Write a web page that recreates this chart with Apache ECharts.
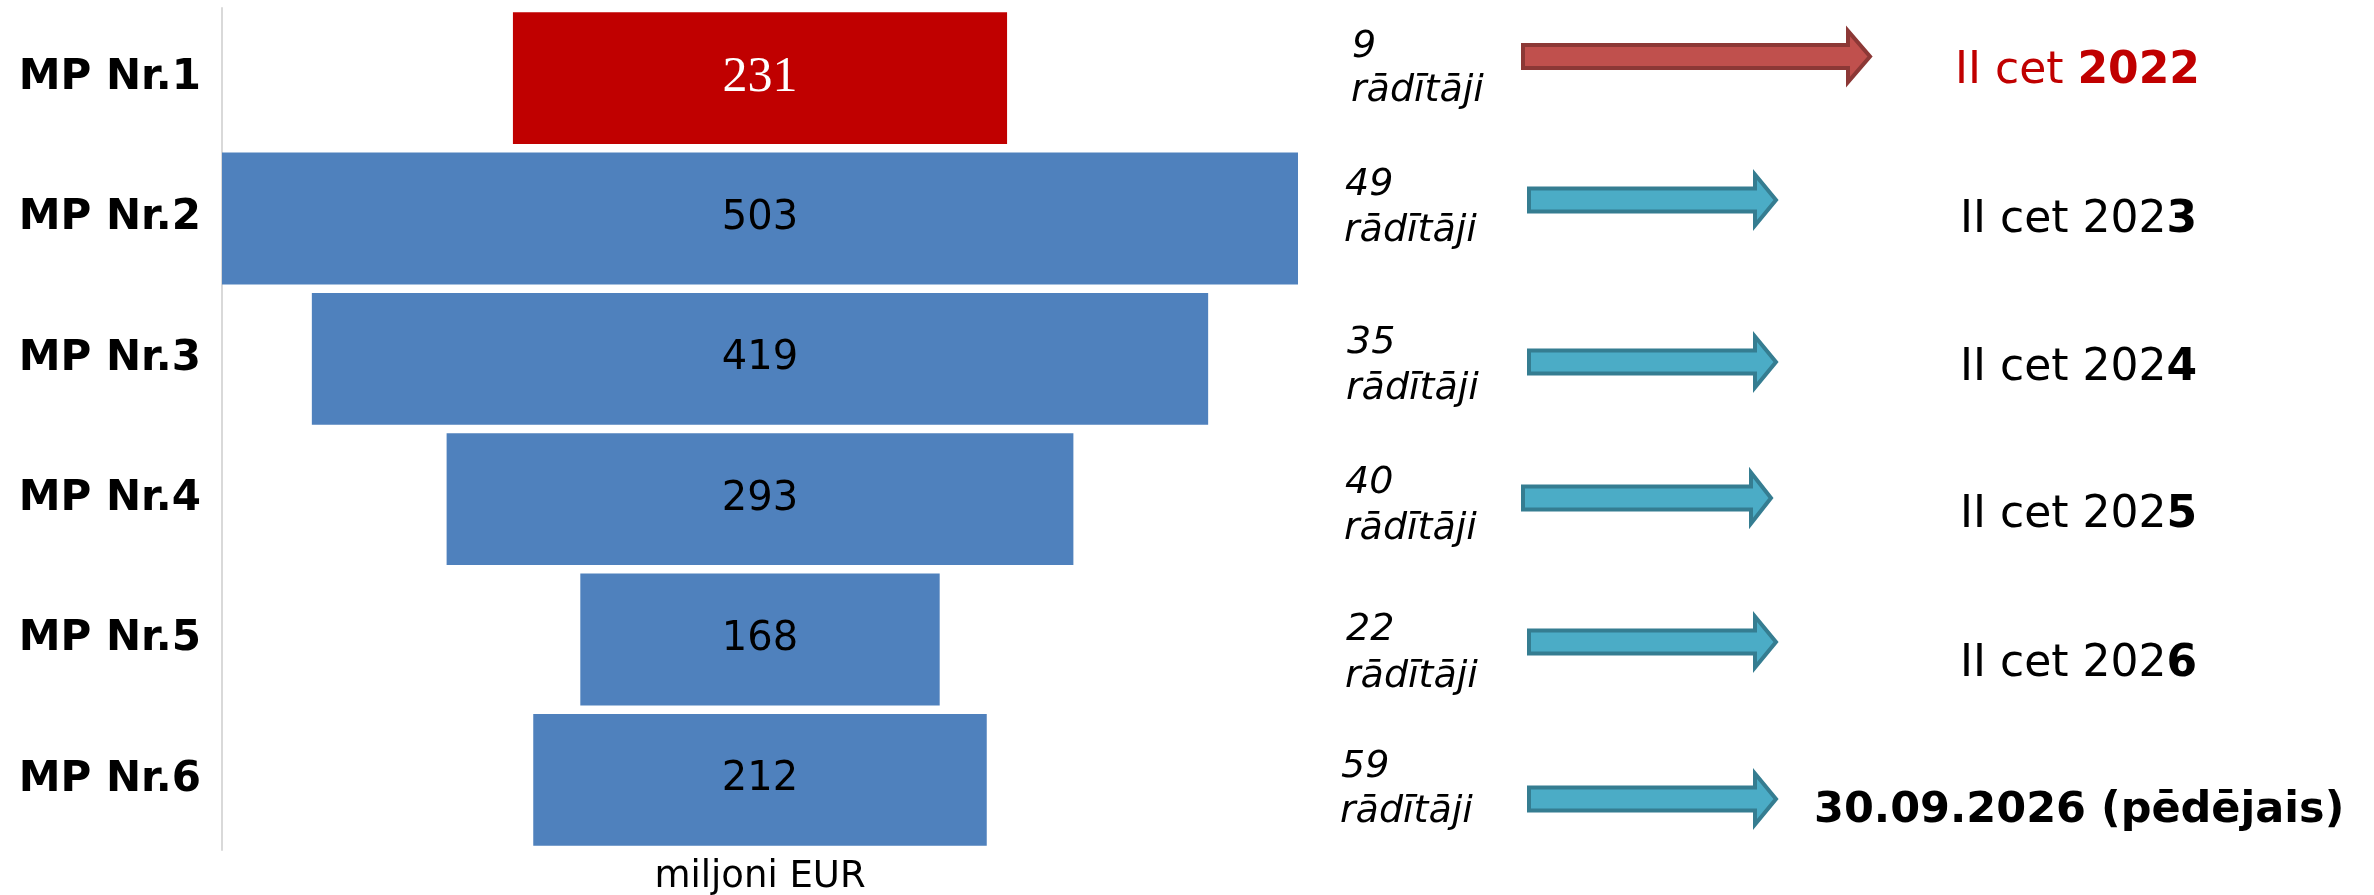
<!DOCTYPE html>
<html>
<head>
<meta charset="utf-8">
<script src="https://cdn.jsdelivr.net/npm/echarts@6/dist/echarts.min.js"></script>
<style>
  html, body { margin: 0; padding: 0; background: #ffffff; }
  #chart { width: 2374px; height: 895px; }
</style>
</head>
<body>
<div id="chart"></div>
<script>
// ---------- data ----------
const categories = ['MP Nr.1', 'MP Nr.2', 'MP Nr.3', 'MP Nr.4', 'MP Nr.5', 'MP Nr.6'];
const amounts = [231, 503, 419, 293, 168, 212];           // miljoni EUR
const indicatorCounts = [9, 49, 35, 40, 22, 59];
const indicatorWord = 'rādītāji';
const deadlineRegular = ['II cet ', 'II cet 202', 'II cet 202', 'II cet 202', 'II cet 202', ''];
const deadlineBold = ['2022', '3', '4', '5', '6', '30.09.2026 (pēdējais)'];
const axisName = 'miljoni EUR';

// ---------- layout (annotation positions, px) ----------
const FONT = 'DejaVu Sans';
const countPos = [[1352, 47, 91], [1345, 185, 231], [1347, 343, 389], [1345, 483, 529], [1346, 630, 677], [1341, 767, 812]];
const arrowPos = [[1521, 1846, 1873, 56.5], [1527, 1753, 1779, 200], [1527, 1753, 1779, 362], [1521, 1749, 1774, 498], [1527, 1753, 1779, 642], [1527, 1753, 1779, 799]];
const deadlinePos = [[1955, 72], [1960, 221], [1960, 369], [1960, 516], [1960, 665], [1814, 811]];

const RED = '#C00000';
const BLUE = '#4F81BD';

const maxV = Math.max(...amounts);

const chart = echarts.init(document.getElementById('chart'), null, { renderer: 'canvas' });

const graphics = [];
categories.forEach((c, i) => {
  const [tx, y1, y2] = countPos[i];
  graphics.push({
    type: 'text', x: tx, y: y1, silent: true,
    style: { text: String(indicatorCounts[i]), font: 'italic 38px "' + FONT + '"', fill: '#000', verticalAlign: 'middle', align: 'left' }
  });
  graphics.push({
    type: 'text', x: tx - 1, y: y2, silent: true,
    style: { text: indicatorWord, font: 'italic 38px "' + FONT + '"', fill: '#000', verticalAlign: 'middle', align: 'left' }
  });
  const [x0, xb, xt, cy] = arrowPos[i];
  const sh = 11.5, hh = 25.5;
  const isHi = i === 0;
  graphics.push({
    type: 'polygon', silent: true,
    shape: { points: [[x0 + 2, cy - sh], [xb + 2, cy - sh], [xb + 2, cy - hh], [xt - 3, cy], [xb + 2, cy + hh], [xb + 2, cy + sh], [x0 + 2, cy + sh]] },
    style: { fill: isHi ? '#C0504D' : '#4BACC6', stroke: isHi ? '#8C3836' : '#357D91', lineWidth: 4, lineJoin: 'miter' }
  });
  const [dx, dy] = deadlinePos[i];
  const col = isHi ? RED : '#000';
  let txt = '';
  if (deadlineRegular[i]) txt += '{r|' + deadlineRegular[i] + '}';
  txt += '{b|' + deadlineBold[i] + '}';
  const fs = i === 5 ? 43 : 44;
  graphics.push({
    type: 'text', x: dx, y: dy, silent: true,
    style: {
      text: txt, align: 'left', verticalAlign: 'middle', fill: col,
      rich: {
        r: { fontFamily: FONT, fontSize: fs, fontWeight: 'normal', fill: col, color: col },
        b: { fontFamily: FONT, fontSize: fs, fontWeight: 'bold', fill: col, color: col }
      }
    }
  });
});

const option = {
  backgroundColor: '#ffffff',
  animation: false,
  grid: { left: 222, top: 8, width: 1076, height: 842, containLabel: false, outerBoundsMode: 'none' },
  xAxis: {
    type: 'value', min: 0, max: maxV,
    axisLine: { show: false }, axisTick: { show: false }, axisLabel: { show: false }, splitLine: { show: false },
    name: axisName, nameLocation: 'middle', nameGap: 9,
    nameTextStyle: { fontFamily: FONT, fontSize: 37, color: '#000' }
  },
  yAxis: {
    type: 'category', data: categories, inverse: true,
    axisLine: { show: true, lineStyle: { color: '#d9d9d9', width: 2 } },
    axisTick: { show: false },
    splitLine: { show: false },
    axisLabel: { fontFamily: FONT, fontSize: 42, fontWeight: 'bold', color: '#000', margin: 21 }
  },
  series: [
    {
      type: 'bar', stack: 'funnel', silent: true, barCategoryGap: '6%',
      itemStyle: { color: 'rgba(0,0,0,0)' },
      data: amounts.map(v => (maxV - v) / 2)
    },
    {
      type: 'bar', stack: 'funnel', barCategoryGap: '6%',
      label: { show: true, position: 'inside', fontFamily: FONT, fontSize: 40, color: '#000', textBorderWidth: 0 },
      data: amounts.map((v, i) => i === 0
        ? { value: v, itemStyle: { color: RED }, label: { fontFamily: 'Liberation Serif', fontSize: 50, color: '#fff' } }
        : { value: v, itemStyle: { color: BLUE } })
    }
  ],
  graphic: graphics
};
chart.setOption(option);
</script>
</body>
</html>
